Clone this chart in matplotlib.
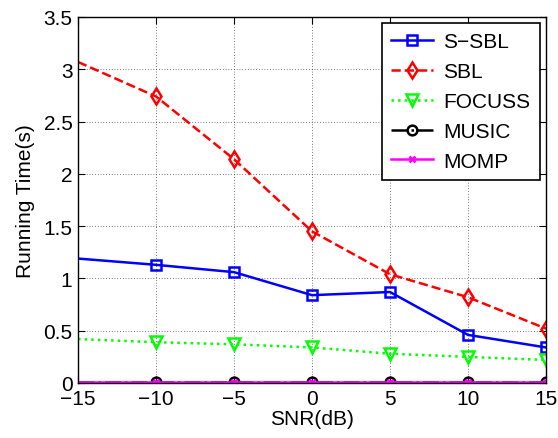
import matplotlib
matplotlib.use('Agg')
import matplotlib.pyplot as plt

plt.rcParams['font.family'] = ['Liberation Sans', 'DejaVu Sans']

snr = [-15, -10, -5, 0, 5, 10, 15]
s_sbl = [1.19, 1.13, 1.06, 0.84, 0.87, 0.46, 0.34]
sbl = [3.07, 2.74, 2.14, 1.45, 1.04, 0.82, 0.52]
focuss = [0.42, 0.39, 0.37, 0.34, 0.28, 0.25, 0.22]
music = [0.01, 0.01, 0.01, 0.01, 0.01, 0.01, 0.01]
momp = [0.005, 0.005, 0.005, 0.005, 0.005, 0.005, 0.005]

xticks = [-15, -10, -5, 0, 5, 10, 15]
yticks = [0, 0.5, 1, 1.5, 2, 2.5, 3, 3.5]

fig = plt.figure(figsize=(5.58, 4.39), dpi=100)
ax = fig.add_axes([0.1398, 0.1253, 0.8387, 0.8337])

mk = slice(1, None)
ax.plot(snr, s_sbl, '-', color='#0000ff', lw=1.8, marker='s', ms=6.5, mfc='none', mew=1.8, markevery=mk, label='S\u2212SBL')
ax.plot(snr, sbl, '--', color='#ff0000', lw=1.8, marker='d', ms=8, mfc='none', mew=1.8, markevery=mk, label='SBL')
ax.plot(snr, focuss, ':', color='#00ff00', lw=1.8, marker='v', ms=9, mfc='none', mew=1.8, markevery=mk, label='FOCUSS')
ax.plot(snr, music, '-.', color='black', lw=1.8, marker='o', ms=7, mfc='none', mew=1.8, markevery=mk, label='MUSIC')
ax.plot(snr, momp, '-', color='#ff00ff', lw=1.8, marker='x', ms=5, mew=1.8, markevery=mk, label='MOMP')

ax.set_xlim(-15, 15)
ax.set_ylim(0, 3.5)
ax.set_xticks(xticks)
ax.set_yticks(yticks)
ax.set_xticklabels([str(t).replace('-', '\u2212') for t in xticks])
ax.set_yticklabels(['0', '0.5', '1', '1.5', '2', '2.5', '3', '3.5'])
ax.grid(True, color='black', linestyle=(0, (1, 3)), linewidth=0.5)
ax.tick_params(direction='in', top=True, right=True, labelsize=15, length=5, pad=4)
for s in ax.spines.values():
    s.set_linewidth(1)

ax.set_xlabel('SNR(dB)', fontsize=15, labelpad=1)
ax.set_ylabel('Running Time(s)', fontsize=15, labelpad=6)

leg = ax.legend(loc='upper right', fontsize=15, fancybox=False, framealpha=1,
                edgecolor='black', handlelength=2.0, borderaxespad=0.29,
                labelspacing=0.52, handletextpad=0.5, borderpad=0.45)
leg.get_frame().set_linewidth(1.2)

fig.savefig('out.png', dpi=100)
